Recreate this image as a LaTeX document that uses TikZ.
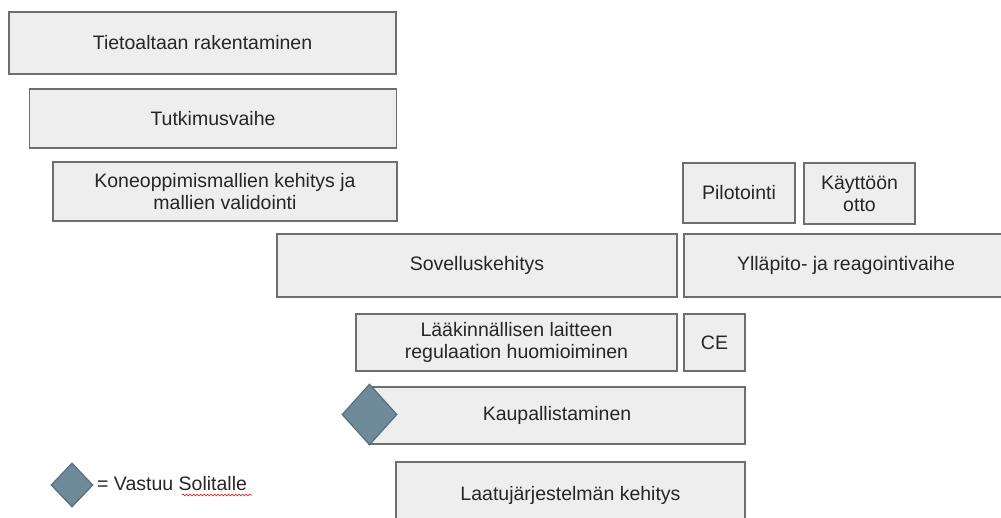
\documentclass[tikz,border=0pt]{standalone}
\usepackage{fontspec}
\setmainfont{Liberation Sans}
\usetikzlibrary{shapes.geometric,decorations.pathmorphing}
\definecolor{boxfill}{HTML}{EEEEEE}
\definecolor{boxline}{HTML}{6E6E6E}
\definecolor{dmfill}{HTML}{6F8A99}
\definecolor{dmline}{HTML}{55707E}
\begin{document}
\begin{tikzpicture}[x=1pt,y=-1pt,
  phase/.style={draw=boxline, fill=boxfill, line width=1.4pt, inner sep=0pt,
    align=center, font=\fontsize{19.5}{22}\selectfont, text=black!85},
  resp/.style={shape=diamond, draw=dmline, fill=dmfill, line width=1.2pt, inner sep=0pt},
  legendtxt/.style={inner sep=0pt, font=\fontsize{19.5}{22}\selectfont, text=black!85}]
\useasboundingbox (0,0) rectangle (1001,517);
\clip (0,0) rectangle (1001,517);
% phase boxes
\node[phase, minimum width=387pt, minimum height=62pt] (tieto) at (202.5,43) {Tietoaltaan rakentaminen};
\node[phase, minimum width=367pt, minimum height=59pt] (tutk) at (213,118.5) {Tutkimusvaihe};
\node[phase, minimum width=344pt, minimum height=59pt] (kone) at (225,191.5) {Koneoppimismallien kehitys ja\\mallien validointi};
\node[phase, minimum width=112pt, minimum height=60pt] (pilot) at (739,193) {Pilotointi};
\node[phase, minimum width=111pt, minimum height=61pt] (kaytto) at (859.5,193.5) {Käyttöön\\otto};
\node[phase, minimum width=400pt, minimum height=63pt] (sovel) at (477,265.5) {Sovelluskehitys};
\node[phase, minimum width=324pt, minimum height=63pt] (yllap) at (846,265.5) {Ylläpito- ja reagointivaihe};
\node[phase, minimum width=321pt, minimum height=57pt] (laak) at (516.5,342.5) {Lääkinnällisen laitteen\\regulaation huomioiminen};
\node[phase, minimum width=61pt, minimum height=57pt] (ce) at (714.5,342.5) {CE};
\node[phase, minimum width=376pt, minimum height=57pt] (kaup) at (557,415.5) {Kaupallistaminen};
\node[phase, minimum width=349pt, minimum height=66pt] (laatu) at (570.5,495) {Laatujärjestelmän kehitys};
% responsibility marker
\node[resp, minimum width=55pt, minimum height=61pt] (kaupresp) at (369.5,414.5) {};
% legend
\node[resp, minimum width=42pt, minimum height=44pt] (legdm) at (72,485) {};
\node[legendtxt, anchor=west] (legtxt) at (97,484) {= Vastuu Solitalle};
\draw[red!85!black, line width=0.6pt, decorate,
  decoration={snake, amplitude=0.9pt, segment length=3.5pt}] (182,495) -- (252,495);
\end{tikzpicture}
\end{document}
